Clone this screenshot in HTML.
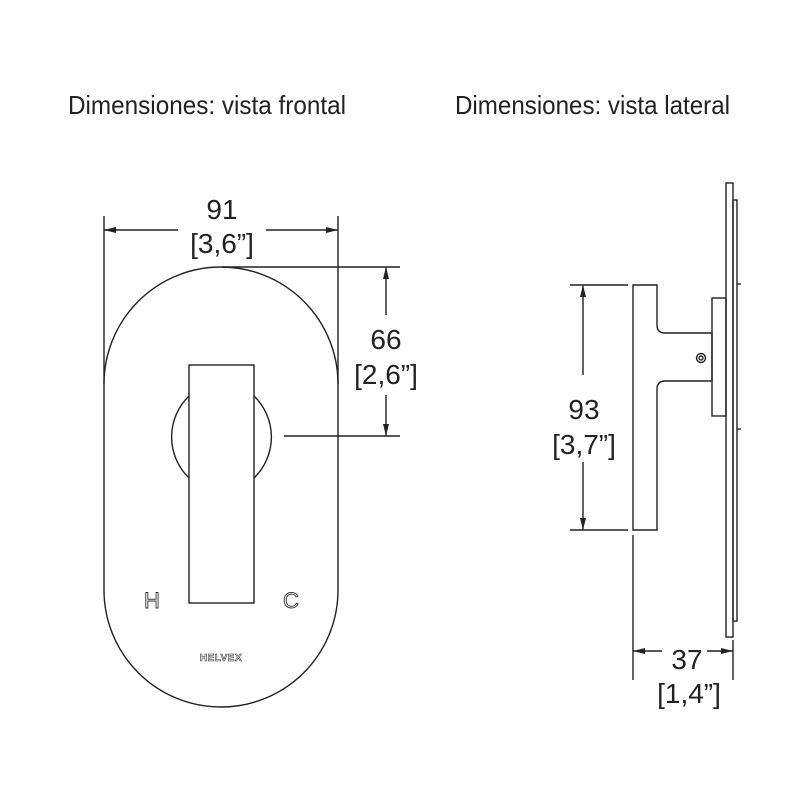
<!DOCTYPE html>
<html><head><style>html,body{margin:0;padding:0;background:#fff}svg{display:block}</style></head>
<body>
<svg width="800" height="800" viewBox="0 0 800 800" xmlns="http://www.w3.org/2000/svg" font-family="'Liberation Sans', sans-serif">
<defs>
<marker id="a" viewBox="0 0 12 6" refX="12" refY="3" markerWidth="12" markerHeight="6" orient="auto-start-reverse" markerUnits="userSpaceOnUse"><path d="M0,0 L12,3 L0,6 z" fill="#222"/></marker>
</defs>
<g fill="#222" font-size="26">
<text x="68" y="114" textLength="278" lengthAdjust="spacingAndGlyphs">Dimensiones: vista frontal</text>
<text x="455" y="114" textLength="275" lengthAdjust="spacingAndGlyphs">Dimensiones: vista lateral</text>
</g>
<g fill="#222" font-size="28">
<text x="222" y="219" text-anchor="middle">91</text>
<text x="222" y="253" text-anchor="middle">[3,6”]</text>
<text x="386" y="349" text-anchor="middle">66</text>
<text x="386" y="384" text-anchor="middle">[2,6”]</text>
<text x="584" y="419" text-anchor="middle">93</text>
<text x="584" y="454" text-anchor="middle">[3,7”]</text>
<text x="687" y="669" text-anchor="middle">37</text>
<text x="689" y="703" text-anchor="middle">[1,4”]</text>
</g>
<g fill="none" stroke="#222" stroke-width="1.4">
<path d="M104,384 A117,117 0 0 1 338,384 L338,590 A117,117 0 0 1 104,590 Z"/>
<path d="M189,396 A57,57 0 0 0 189,478 M254,396 A57,57 0 0 1 254,478"/>
<rect x="189" y="365" width="65" height="238"/>
<line x1="104" y1="216" x2="104" y2="384"/>
<line x1="338" y1="216" x2="338" y2="384"/>
<line x1="104" y1="230" x2="178" y2="230" marker-start="url(#a)"/>
<line x1="266" y1="230" x2="338" y2="230" marker-end="url(#a)"/>
<line x1="222" y1="267" x2="400" y2="267"/>
<line x1="284" y1="436" x2="400" y2="436"/>
<line x1="386" y1="267" x2="386" y2="315" marker-start="url(#a)"/>
<line x1="386" y1="395" x2="386" y2="436" marker-end="url(#a)"/>
<rect x="726" y="183" width="7" height="454"/>
<rect x="733" y="200" width="4" height="421"/>
<rect x="712" y="298" width="14" height="118"/>
<path d="M633,285 L657,285 L657,325 Q657,333 665,333 L712,333 L712,381 L665,381 Q657,381 657,389 L657,530 L633,530 Z"/>
<circle cx="701" cy="358" r="4.5"/>
<circle cx="701" cy="358" r="2"/>
<line x1="737" y1="284" x2="741" y2="284"/>
<line x1="737" y1="429" x2="741" y2="429"/>
<line x1="570" y1="285" x2="628" y2="285"/>
<line x1="570" y1="530" x2="628" y2="530"/>
<line x1="583" y1="285" x2="583" y2="375" marker-start="url(#a)"/>
<line x1="583" y1="462" x2="583" y2="530" marker-end="url(#a)"/>
<line x1="633" y1="535" x2="633" y2="680"/>
<line x1="733" y1="640" x2="733" y2="680"/>
<line x1="633" y1="651" x2="662" y2="651" marker-start="url(#a)"/>
<line x1="707" y1="651" x2="733" y2="651" marker-end="url(#a)"/>
</g>
<g fill="#fff" stroke="#333" stroke-width="0.9">
<text x="152" y="608" font-size="22" text-anchor="middle">H</text>
<text x="291" y="608" font-size="22" text-anchor="middle">C</text>
</g>
<text x="221" y="661" font-size="10" font-weight="bold" text-anchor="middle" fill="#fff" stroke="#333" stroke-width="0.6" letter-spacing="0.5">HELVEX</text>
</svg>
</body></html>
